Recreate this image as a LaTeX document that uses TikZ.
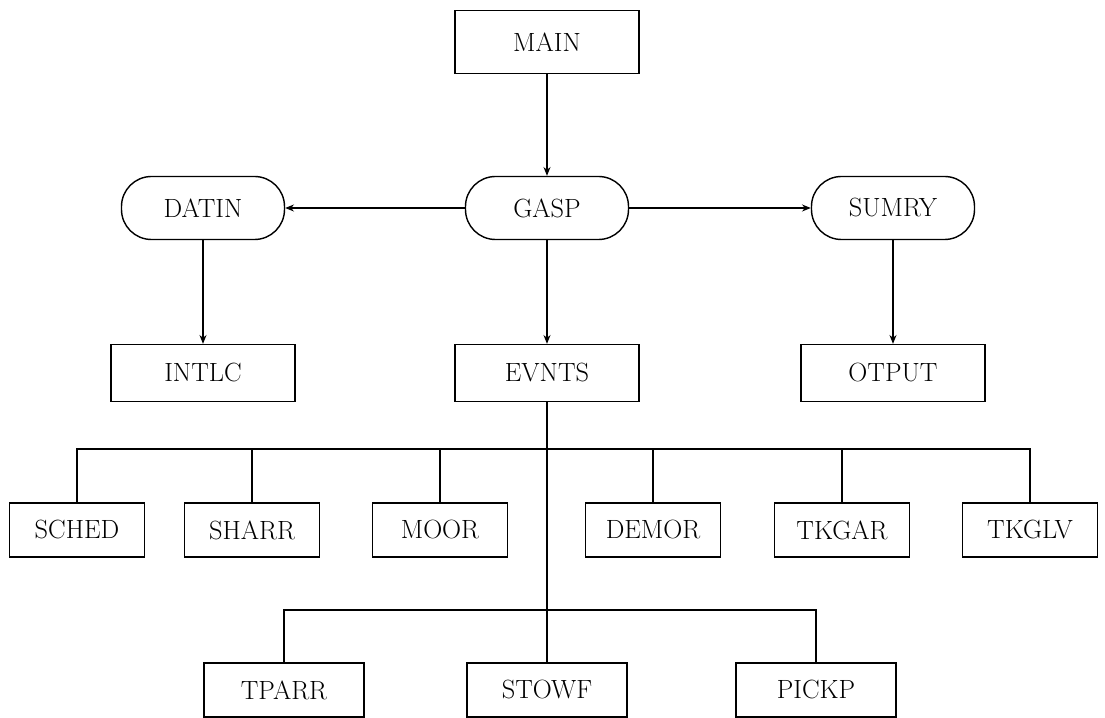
\documentclass[tikz,border=0pt]{standalone}
\usepackage{tikz}
\usetikzlibrary{arrows.meta}

\begin{document}
\begin{tikzpicture}[
	font=\fontsize{15}{17}\selectfont,
	>={Stealth[length=5pt, width=4pt]},
	progbox/.style={draw, thick, rectangle, align=center, minimum width=3.68cm, minimum height=1.14cm},
	ctrlbox/.style={draw, thick, rectangle, rounded corners=0.6cm, align=center, minimum width=3.26cm, minimum height=1.26cm},
	eventbox/.style={draw, thick, rectangle, align=center, minimum width=2.7cm, minimum height=1.08cm},
	subbox/.style={draw, thick, rectangle, align=center, minimum width=3.2cm, minimum height=1.08cm}]

	\useasboundingbox (0,0) rectangle (22.1,-14.36);

	\node[progbox, minimum height=1.26cm] (main) at (10.94,-0.84) {MAIN};
	
	\node[ctrlbox, below of=main, yshift=-2.32cm] (gasp) {GASP};
	
	\node[ctrlbox, left of=gasp, xshift=-5.88cm] (datin) {DATIN};
	
	\node[ctrlbox, right of=gasp, xshift=5.92cm] (sumry) {SUMRY};
	
	\node[progbox, below of=datin, yshift=-2.3cm] (intlc) {INTLC};
	
	\node[progbox, below of=gasp, yshift=-2.3cm] (evnts) {EVNTS};
	
	\node[progbox, below of=sumry, yshift=-2.3cm] (otput) {OTPUT};
	
	% events called from EVNTS
	\node[eventbox, below of=evnts, xshift=-9.4cm, yshift=-2.14cm] (sched) {SCHED};
	
	\node[eventbox, below of=evnts, xshift=-5.9cm, yshift=-2.14cm] (sharr) {SHARR};
	
	\node[eventbox, below of=evnts, xshift=-2.14cm, yshift=-2.14cm] (moor) {MOOR};
	
	\node[eventbox, below of=evnts, xshift=2.12cm, yshift=-2.14cm] (demor) {DEMOR};
	
	\node[eventbox, below of=evnts, xshift=5.9cm, yshift=-2.14cm] (tkgar) {TKGAR};
	
	\node[eventbox, below of=evnts, xshift=9.66cm, yshift=-2.14cm] (tkglv) {TKGLV};
	
	\node[subbox, below of=evnts, yshift=-5.34cm] (stowf) {STOWF};
	
	\node[subbox, left of=stowf, xshift=-4.26cm] (tparr) {TPARR};
	
	\node[subbox, right of=stowf, xshift=4.38cm] (pickp) {PICKP};
	
	\coordinate (bus) at ([yshift=-1.52cm]evnts);
	\coordinate (split) at ([yshift=-4.74cm]evnts);
	
	\draw[->, semithick] (main) -- (gasp);
	
	\draw[->, semithick] (gasp) -- (datin);
	
	\draw[->, semithick] (gasp) -- (sumry);
	
	\draw[->, semithick] (datin) -- (intlc);
	
	\draw[->, semithick] (gasp) -- (evnts);
	
	\draw[->, semithick] (sumry) -- (otput);
	
	\draw[semithick] (evnts) -- (stowf);
	
	\draw[semithick] (sched.north) |- (bus) -| (tkglv.north);
	\draw[semithick] (sharr.north) -- (sharr.north |- bus);
	\draw[semithick] (moor.north) -- (moor.north |- bus);
	\draw[semithick] (demor.north) -- (demor.north |- bus);
	\draw[semithick] (tkgar.north) -- (tkgar.north |- bus);
	
	\draw[semithick] (tparr.north) |- (split) -| (pickp.north);
\end{tikzpicture}
\end{document}
